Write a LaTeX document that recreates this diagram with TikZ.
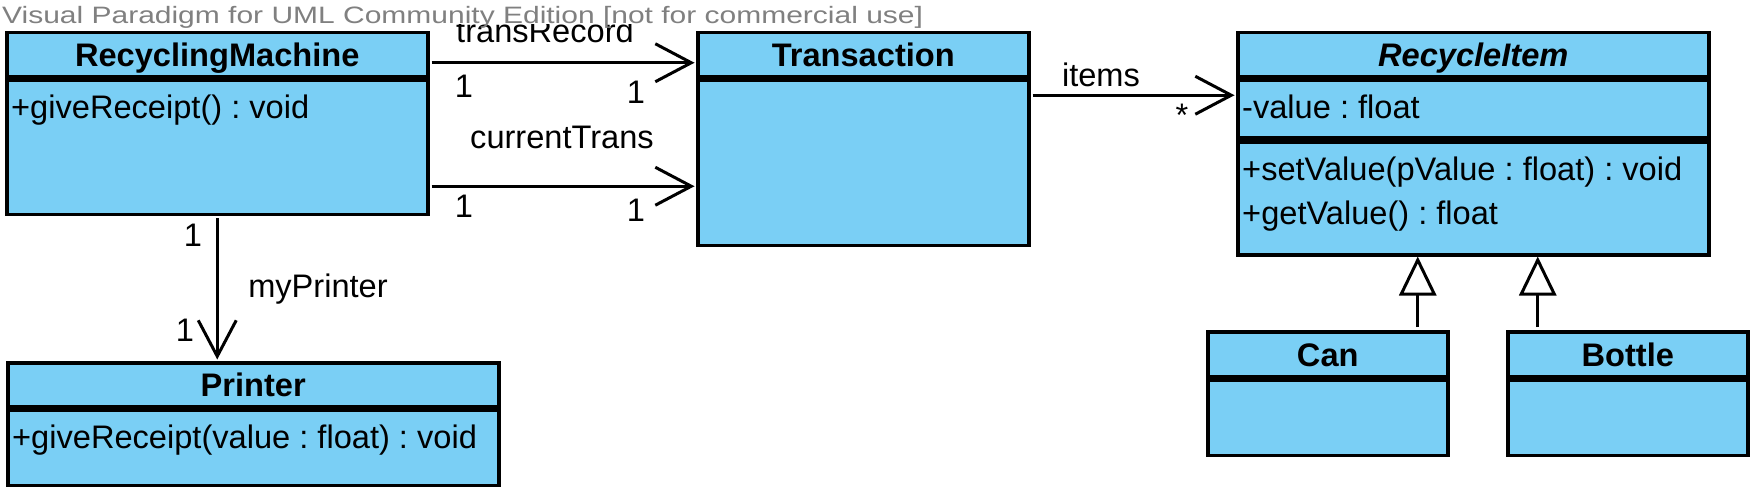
\documentclass[tikz,border=0pt]{standalone}
\usepackage{fontspec}
\setmainfont{Liberation Sans}
\usetikzlibrary{arrows.meta}

\definecolor{classblue}{RGB}{122,207,245}
\definecolor{markgray}{RGB}{128,128,128}
\newcommand\umlfont{\fontsize{32.6pt}{40pt}\selectfont}
\newcommand\markfont{\fontsize{23.7pt}{28pt}\selectfont}
\frenchspacing

\tikzset{
  classbox/.style={draw, fill=classblue, line width=3.5pt, inner sep=0pt, anchor=north west},
  classname/.style={font=\umlfont\bfseries, anchor=base, inner sep=0pt},
  member/.style={font=\umlfont, anchor=base west, inner sep=0pt},
  multlabel/.style={font=\umlfont, inner sep=0pt},
  assoc/.style={line width=3pt, shorten <=2pt, shorten >=1.5pt, -{Straight Barb[length=36pt, width=38pt]}},
  generalize/.style={line width=3pt, -{Triangle[length=39pt, width=37pt, fill=white]}},
}

\begin{document}
\begin{tikzpicture}[x=1pt, y=-1pt]
        \useasboundingbox (0,0) rectangle (1758,492);

        \node[classbox, minimum width=421pt, minimum height=44pt] (rmhead) at (5,31) {};
        \node[classbox, minimum width=421pt, minimum height=134pt] (rmbody) at (rmhead.south west) {};
        \node[classname] (rmname) at ([yshift=-12pt]rmhead.center) {RecyclingMachine};
        \node[member] (rmgive) at ([xshift=6pt, yshift=-40pt]rmbody.north west) {+giveReceipt() : void};

        \node[classbox, minimum width=331pt, minimum height=44pt] (tahead) at (696,31) {};
        \node[classbox, minimum width=331pt, minimum height=165pt] (tabody) at (tahead.south west) {};
        \node[classname] (taname) at ([yshift=-12pt]tahead.center) {Transaction};

        \node[classbox, minimum width=471pt, minimum height=44pt] (rihead) at (1236,31) {};
        \node[classbox, minimum width=471pt, minimum height=58pt] (riattr) at (rihead.south west) {};
        \node[classbox, minimum width=471pt, minimum height=113pt] (riops) at (riattr.south west) {};
        \node[classname, font=\umlfont\bfseries\itshape] (riname) at ([yshift=-12pt]rihead.center) {RecycleItem};
        \node[member] (rivalue) at ([xshift=6pt, yshift=-40pt]riattr.north west) {-value : float};
        \node[member] (riset) at ([xshift=6pt, yshift=-40pt]riops.north west) {+setValue(pValue : float) : void};
        \node[member] (riget) at ([xshift=6pt, yshift=-84pt]riops.north west) {+getValue() : float};

        \node[classbox, minimum width=491pt, minimum height=44pt] (prhead) at (6,361) {};
        \node[classbox, minimum width=491pt, minimum height=75pt] (prbody) at (prhead.south west) {};
        \node[classname] (prname) at ([yshift=-12pt]prhead.center) {Printer};
        \node[member] (prgive) at ([xshift=6pt, yshift=-40pt]prbody.north west) {+giveReceipt(value : float) : void};

        \node[classbox, minimum width=240pt, minimum height=45pt] (canhead) at (1206,330) {};
        \node[classbox, minimum width=240pt, minimum height=75pt] (canbody) at (canhead.south west) {};
        \node[classname] (canname) at ([yshift=-12pt]canhead.center) {Can};

        \node[classbox, minimum width=240pt, minimum height=45pt] (bohead) at (1506,330) {};
        \node[classbox, minimum width=240pt, minimum height=75pt] (bobody) at (bohead.south west) {};
        \node[classname] (boname) at ([yshift=-12pt]bohead.center) {Bottle};

        \draw[assoc] ([yshift=-8pt]rmhead.east) -- ([yshift=-8pt]tahead.west);
        \draw[assoc] ([yshift=-39pt]rmbody.east) -- ([yshift=-23.5pt]tabody.west);
        \coordinate (itemsend) at ([yshift=14pt]riattr.west);
        \draw[assoc] (tabody.east |- itemsend) -- (itemsend);
        \draw[assoc] (rmbody.south) -- (prhead.north -| rmbody.south);

        \coordinate (cantop) at ([xshift=90pt]canhead.north);
        \coordinate (botop) at ([xshift=-90pt]bohead.north);
        \draw[generalize] ([yshift=3pt]cantop) -- (riops.south -| cantop);
        \draw[generalize] ([yshift=3pt]botop) -- (riops.south -| botop);

        \begin{scope}
          \clip (0,25) rectangle (1758,492);
          \node[multlabel] (trlabel) at (545,31) {transRecord};
        \end{scope}
        \node[multlabel] (trsrc) at (464,86) {1};
        \node[multlabel] (trdst) at (636,92) {1};
        \node[multlabel] (ctlabel) at (562,137) {currentTrans};
        \node[multlabel] (ctsrc) at (464,206) {1};
        \node[multlabel] (ctdst) at (636,210) {1};
        \node[multlabel] (itlabel) at (1101,75) {items};
        \node[multlabel] (itdst) at (1182,115) {*};
        \node[multlabel] (mpsrc) at (193,235) {1};
        \node[multlabel] (mplabel) at (318,289) {myPrinter};
        \node[multlabel] (mpdst) at (185,330) {1};

        \node[font=\markfont, text=markgray, anchor=base west, inner sep=0pt] (vpmark) at (2,24)
          {\scalebox{1.265}[1]{Visual Paradigm for UML Community Edition [not for commercial use]}};
      \end{tikzpicture}
\end{document}
